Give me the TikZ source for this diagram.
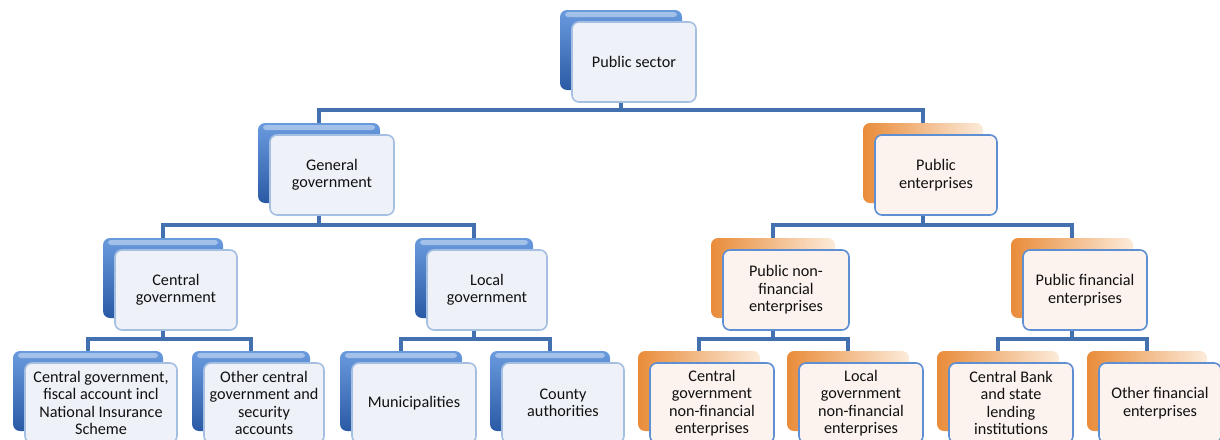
\documentclass[tikz,border=0pt]{standalone}
\usepackage{fontspec}
\setmainfont{Carlito}
\usetikzlibrary{backgrounds}

\definecolor{BlueHi}{HTML}{6A9ADE}
\definecolor{BlueLo}{HTML}{2A5AA4}
\definecolor{BlueEdge}{HTML}{A5BFE2}
\definecolor{BlueTint}{HTML}{EEF2F8}
\definecolor{OrLo}{HTML}{E98C3A}
\definecolor{OrMid}{HTML}{F9D6B2}
\definecolor{OrHi}{HTML}{FCEBDA}
\definecolor{OrEdge}{HTML}{5E8FD2}
\definecolor{OrTint}{HTML}{FCF2EE}
\definecolor{ConnCol}{HTML}{4370AE}
\definecolor{TextCol}{HTML}{111111}

\tikzset{
  backbox/.style={rectangle, rounded corners=7pt, minimum height=80pt,
    inner sep=0pt, draw=none},
  blueback/.style={backbox, top color=BlueHi, bottom color=BlueLo,
    path picture={\fill[white, opacity=.4, rounded corners=3pt]
      ([xshift=5pt,yshift=-2pt]path picture bounding box.north west)
      rectangle ([xshift=-5pt,yshift=-7pt]path picture bounding box.north east);}},
  orangeback/.style={backbox, left color=OrLo, middle color=OrMid, right color=OrHi},
  frontbox/.style={rectangle, rounded corners=7pt, minimum height=80pt,
    inner sep=2pt, align=center, text=TextCol, line width=1.6pt,
    font=\fontsize{16.2}{17.5}\selectfont},
  bluefront/.style={frontbox, draw=BlueEdge, fill=BlueTint},
  orangefront/.style={frontbox, draw=OrEdge, fill=OrTint},
  conn/.style={draw=ConnCol, line width=4.5pt},
}

% #1 name, #2 x, #3 y (centre of the back plate), #4 width, #5 colour scheme, #6 label
\newcommand\orgunit[6]{%
  \node[#5back, minimum width=#4pt] (b-#1) at (#2,#3) {};
  \node[#5front, minimum width=#4pt+2pt] (#1) at ([shift={(13,12)}]b-#1.center) {#6};
}

\begin{document}
\begin{tikzpicture}[x=1pt, y=-1pt]
\useasboundingbox (0,0) rectangle (1220,439);
\clip (0,0) rectangle (1220,439);

% level 0
\orgunit{ps}{621}{50}{122}{blue}{Public sector}
% level 1
\orgunit{gg}{319}{163}{122}{blue}{General\\government}
\orgunit{pe}{923}{163}{120}{orange}{Public\\enterprises}
% level 2
\orgunit{cg}{163}{278}{120}{blue}{Central\\government}
\orgunit{lg}{474}{278}{118}{blue}{Local\\government}
\orgunit{pnf}{773}{278}{124}{orange}{Public non-\\financial\\enterprises}
\orgunit{pf}{1072}{278}{122}{orange}{Public financial\\enterprises}
% level 3
\orgunit{cfa}{88}{391}{150}{blue}{Central government,\\fiscal account incl\\National Insurance\\Scheme}
\orgunit{ocg}{251}{391}{118}{blue}{Other central\\government and\\security\\accounts}
\orgunit{mun}{401}{391}{122}{blue}{Municipalities}
\orgunit{cty}{550}{391}{120}{blue}{County\\authorities}
\orgunit{cnf}{699}{391}{122}{orange}{Central\\government\\non-financial\\enterprises}
\orgunit{lnf}{848}{391}{122}{orange}{Local\\government\\non-financial\\enterprises}
\orgunit{cb}{998}{391}{122}{orange}{Central Bank\\and state\\lending\\institutions}
\orgunit{ofe}{1147}{391}{120}{orange}{Other financial\\enterprises}

% connectors, behind the plates
\begin{scope}[on background layer]
  \coordinate (bar0) at (0,110);
  \coordinate (bar1) at (0,225);
  \coordinate (bar2) at (0,339);
  \draw[conn] (b-ps.center) -- (b-ps.center |- bar0) -| (b-gg.north);
  \draw[conn] (b-ps.center |- bar0) -| (b-pe.north);
  \draw[conn] (b-gg.center) -- (b-gg.center |- bar1) -| (b-cg.north);
  \draw[conn] (b-gg.center |- bar1) -| (b-lg.north);
  \draw[conn] (b-pe.center) -- (b-pe.center |- bar1) -| (b-pnf.north);
  \draw[conn] (b-pe.center |- bar1) -| (b-pf.north);
  \draw[conn] (b-cg.center) -- (b-cg.center |- bar2) -| (b-cfa.north);
  \draw[conn] (b-cg.center |- bar2) -| (b-ocg.north);
  \draw[conn] (b-lg.center) -- (b-lg.center |- bar2) -| (b-mun.north);
  \draw[conn] (b-lg.center |- bar2) -| (b-cty.north);
  \draw[conn] (b-pnf.center) -- (b-pnf.center |- bar2) -| (b-cnf.north);
  \draw[conn] (b-pnf.center |- bar2) -| (b-lnf.north);
  \draw[conn] (b-pf.center) -- (b-pf.center |- bar2) -| (b-cb.north);
  \draw[conn] (b-pf.center |- bar2) -| (b-ofe.north);
\end{scope}
\end{tikzpicture}
\end{document}
